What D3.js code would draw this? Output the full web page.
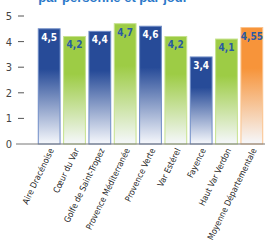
<!DOCTYPE html>
<html>
<head>
<meta charset="utf-8">
<script src="https://cdn.jsdelivr.net/npm/d3@7"></script>
<style>
body { margin: 0; background: #fff; }
text { font-family: "Liberation Sans Narrow", "DejaVu Sans Condensed", sans-serif; }
</style>
</head>
<body>
<div id="chart"></div>
<script>
// categories, values, colour groups
var categories = ["Aire Dracénoise", "Cœur du Var", "Golfe de Saint-Tropez", "Provence Méditerranée",
    "Provence Verte", "Var Estérel", "Fayence", "Haut Var Verdon", "Moyenne Départementale"];
var values = [4.5, 4.2, 4.4, 4.7, 4.6, 4.2, 3.4, 4.1, 4.55];
var labels = ["4,5", "4,2", "4,4", "4,7", "4,6", "4,2", "3,4", "4,1", "4,55"];
var groups = ["blue", "green", "blue", "green", "blue", "green", "blue", "green", "orange"];
var yTicks = [0, 1, 2, 3, 4, 5];

var width = 265, height = 241;
var colors = {blue: "#274b98", green: "#9dcc45", orange: "#f7943a"};
var edge = {blue: "#6f8cc6", green: "#c6e28e", orange: "#fbc38c"};
var textCol = {blue: "#ffffff", green: "#2a5aa3", orange: "#2a5aa3"};

var svg = d3.select("#chart").append("svg")
    .attr("width", width)
    .attr("height", height);

var defs = svg.append("defs");
Object.keys(colors).forEach(function(k) {
    var g = defs.append("linearGradient")
	.attr("id", "grad-" + k)
	.attr("x1", 0).attr("y1", 0).attr("x2", 0).attr("y2", 1);
    g.append("stop").attr("offset", "0%").attr("stop-color", colors[k]);
    g.append("stop").attr("offset", "35%").attr("stop-color", colors[k]);
    g.append("stop").attr("offset", "100%").attr("stop-color", "#f6f8fc");
});

var x = d3.scaleBand().domain(categories).range([36.5, 264.5]).paddingInner(0.14).paddingOuter(0.07);
var y = d3.scaleLinear().domain([0, 5]).range([144, 16]);

// title (cut off at the top)
svg.append("text")
    .attr("x", 113).attr("y", 2)
    .attr("text-anchor", "middle")
    .style("font-family", "'Liberation Sans', Arial, sans-serif")
    .style("font-weight", "bold")
    .style("font-size", "13px")
    .style("fill", "#2b78c9")
    .text("par personne et par jour");

// y axis ticks
var yAxis = svg.append("g");
yAxis.selectAll("line.tick").data(yTicks.filter(function(d){return d > 0;}))
    .enter().append("line")
    .attr("x1", 18).attr("x2", 24)
    .attr("y1", function(d){return y(d);})
    .attr("y2", function(d){return y(d);})
    .attr("stroke", "#555").attr("stroke-width", 1);
yAxis.selectAll("text").data(yTicks)
    .enter().append("text")
    .attr("x", 9).attr("y", function(d){return y(d) + 4;})
    .attr("text-anchor", "middle")
    .style("font-size", "11px")
    .style("fill", "#444")
    .text(function(d){return d;});

// bars
svg.selectAll("rect.bar").data(values)
    .enter().append("rect")
    .attr("class", "bar")
    .attr("x", function(d, i){return x(categories[i]);})
    .attr("y", function(d){return y(d);})
    .attr("width", x.bandwidth())
    .attr("height", function(d){return y(0) - y(d);})
    .attr("fill", function(d, i){return "url(#grad-" + groups[i] + ")";})
    .attr("stroke", function(d, i){return edge[groups[i]];})
    .attr("stroke-width", 1);

// value labels
svg.selectAll("text.val").data(values)
    .enter().append("text")
    .attr("class", "val")
    .attr("x", function(d, i){return x(categories[i]) + x.bandwidth()/2;})
    .attr("y", function(d){return y(d) + 12;})
    .attr("text-anchor", "middle")
    .style("font-size", "10px")
    .style("font-weight", "bold")
    .style("fill", function(d, i){return textCol[groups[i]];})
    .text(function(d, i){return labels[i];});

// x axis line
svg.append("line")
    .attr("x1", 16).attr("x2", 265)
    .attr("y1", y(0)).attr("y2", y(0))
    .attr("stroke", "#777").attr("stroke-width", 1);

// category labels
svg.selectAll("text.cat").data(categories)
    .enter().append("text")
    .attr("class", "cat")
    .attr("text-anchor", "end")
    .attr("transform", function(d){
	return "translate(" + (x(d) + x.bandwidth()/2 + 5) + "," + (y(0) + 6) + ") rotate(-64)";
    })
    .style("font-size", "8.6px")
    .style("fill", "#222")
    .text(function(d){return d;});
</script>
</body>
</html>
